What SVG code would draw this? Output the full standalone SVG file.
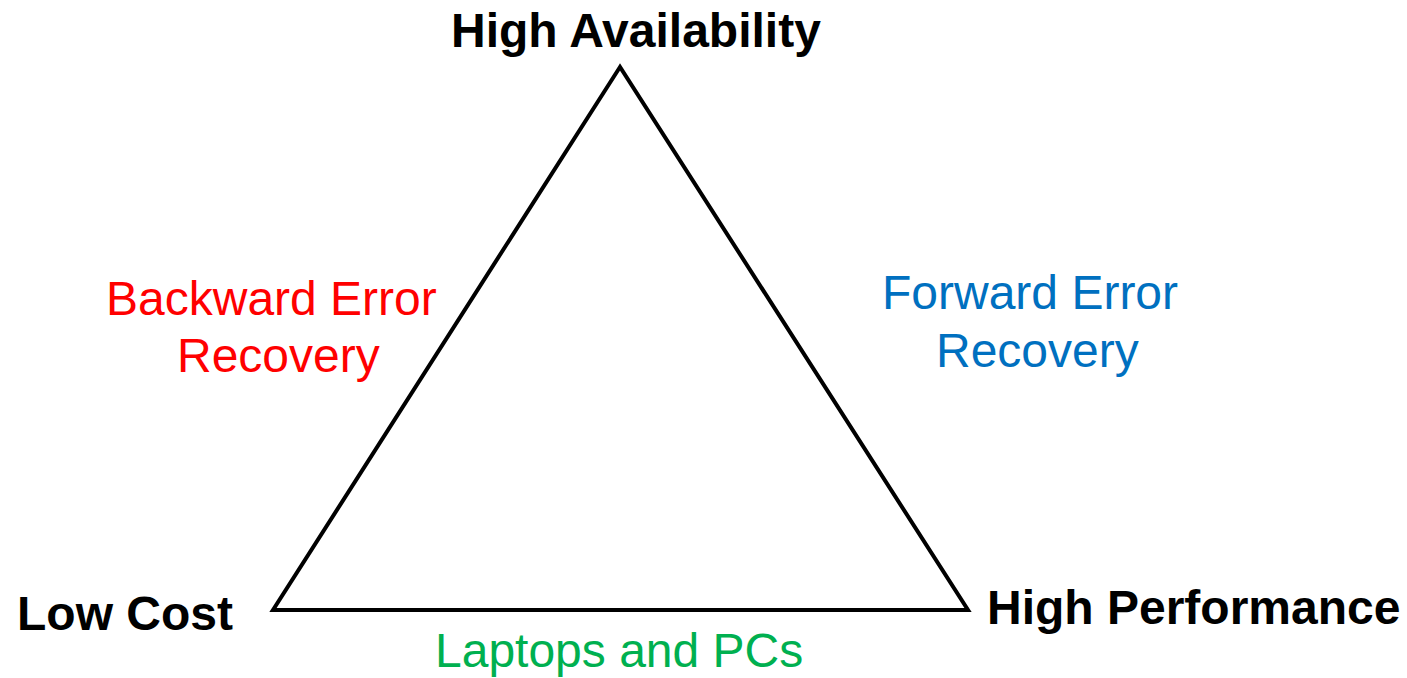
<svg xmlns="http://www.w3.org/2000/svg" width="1407" height="678" viewBox="0 0 1407 678">
  <style>
    .corner { font-family: "Liberation Sans", Arial, sans-serif; font-size: 48px; font-weight: bold; fill: #000; }
    .side { font-family: "Liberation Sans", Arial, sans-serif; font-size: 48px; }
    .edge { fill: none; stroke: #000; stroke-width: 4; stroke-linejoin: miter; }
  </style>
  <rect width="1407" height="678" fill="#fff"/>
  <!-- triangle edges -->
  <g id="connectors">
    <polygon class="edge" points="620,67 273,610 968,610"/>
  </g>
  <!-- corner labels -->
  <g id="high-availability"><text class="corner" x="451" y="47">High Availability</text></g>
  <g id="low-cost"><text class="corner" x="17" y="630">Low Cost</text></g>
  <g id="high-performance"><text class="corner" x="987" y="624">High Performance</text></g>
  <!-- side labels -->
  <g id="backward-error-recovery">
    <text class="side" fill="#ff0000" x="106" y="315">Backward Error</text>
    <text class="side" fill="#ff0000" x="177" y="372">Recovery</text>
  </g>
  <g id="forward-error-recovery">
    <text class="side" fill="#0070c0" x="882" y="309">Forward Error</text>
    <text class="side" fill="#0070c0" x="936" y="367">Recovery</text>
  </g>
  <g id="laptops-pcs">
    <text class="side" fill="#00b050" x="435" y="667">Laptops and PCs</text>
  </g>
</svg>
